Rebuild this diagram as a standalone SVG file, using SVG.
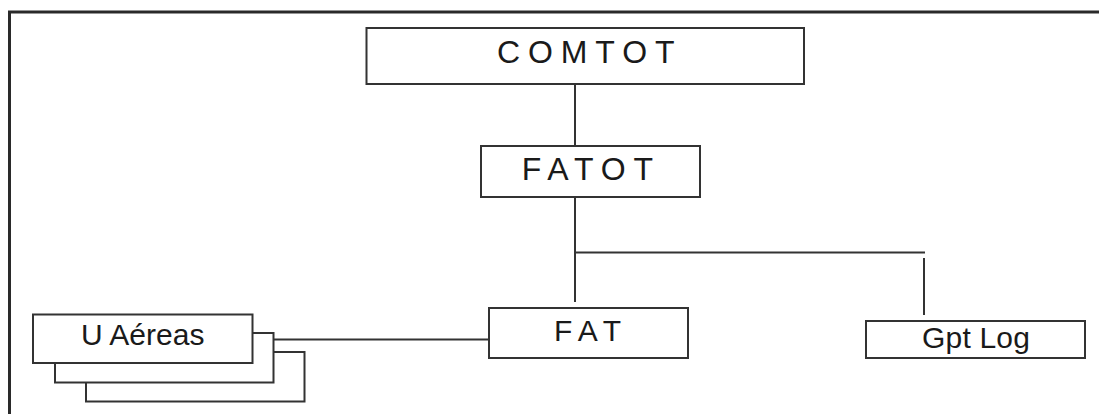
<svg xmlns="http://www.w3.org/2000/svg" width="1099" height="414" viewBox="0 0 1099 414">
  <style>
    .box { fill: #fff; stroke: #333; stroke-width: 2; }
    .wire { fill: none; stroke: #333; stroke-width: 2; }
    .frame { fill: none; stroke: #2a2a2a; stroke-width: 3; }
    .lbl { font-family: "Liberation Sans", Arial, sans-serif; fill: #1a1a1a; }
  </style>
  <rect width="1099" height="414" fill="#fff"/>

  <!-- outer frame (open to the right and bottom) -->
  <path class="frame" d="M9.5 414 V12 H1099"/>

  <!-- connectors -->
  <g id="connectors">
    <path class="wire" d="M575 84 V146"/>
    <path class="wire" d="M575 197 V302"/>
    <path class="wire" d="M575 252.5 H925"/>
    <path class="wire" d="M924 258 V315"/>
    <path class="wire" d="M274 339.5 H489"/>
  </g>

  <g id="comtot">
    <rect class="box" x="366.5" y="28" width="437.5" height="56"/>
    <text class="lbl" x="497" y="63" font-size="32" letter-spacing="7.9">COMTOT</text>
  </g>

  <g id="fatot">
    <rect class="box" x="481" y="146" width="219" height="51"/>
    <text class="lbl" x="521.7" y="180" font-size="32" letter-spacing="7.8">FATOT</text>
  </g>

  <g id="fat">
    <rect class="box" x="489" y="308" width="199" height="50"/>
    <text class="lbl" x="554" y="340.5" font-size="30" letter-spacing="7.2">FAT</text>
  </g>

  <g id="gpt-log">
    <rect class="box" x="866" y="321" width="219" height="37"/>
    <text class="lbl" x="922" y="348" font-size="30" letter-spacing="0.2">Gpt Log</text>
  </g>

  <g id="u-aereas">
    <!-- stacked copies behind the front card -->
    <rect class="box" x="86" y="352" width="218.5" height="49.5"/>
    <rect class="box" x="55" y="333" width="218.5" height="49.5"/>
    <rect class="box" x="33" y="314.5" width="219.5" height="48.5"/>
    <text class="lbl" x="81" y="344.5" font-size="30">U Aéreas</text>
  </g>
</svg>
